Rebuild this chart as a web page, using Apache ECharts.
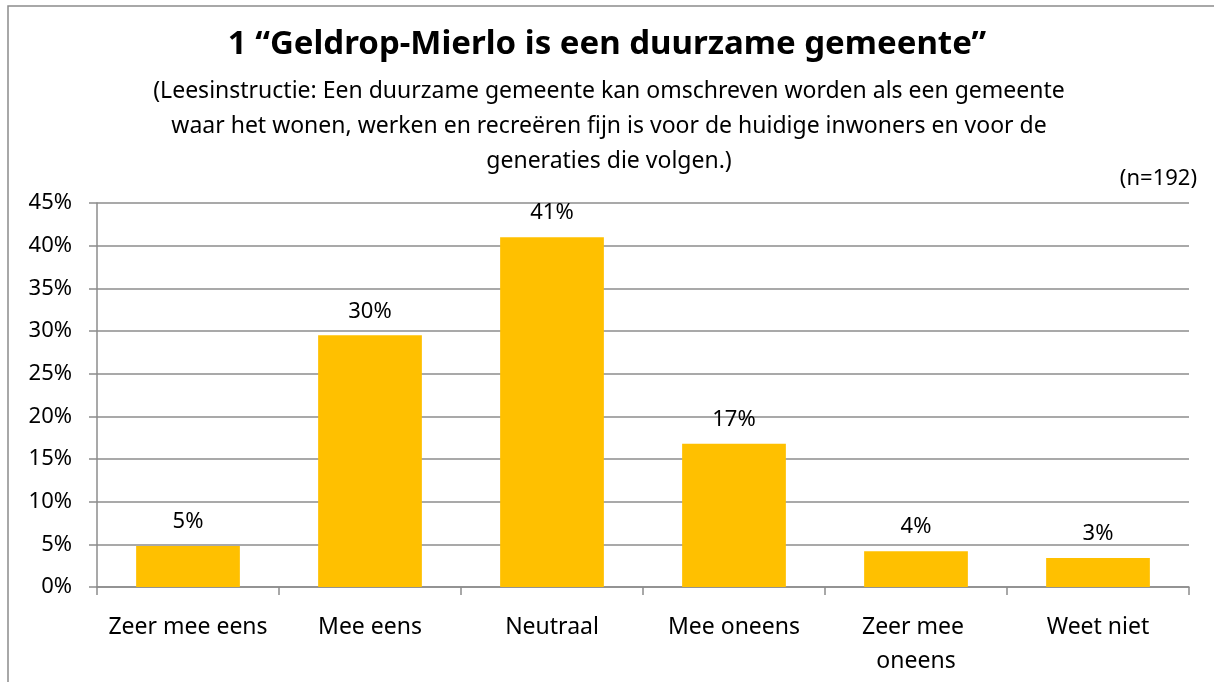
<!DOCTYPE html>
<html>
<head>
<meta charset="utf-8">
<script src="https://cdn.jsdelivr.net/npm/echarts@6/dist/echarts.min.js"></script>
<style>
    html, body { margin: 0; padding: 0; background: #fff; }
    #main { width: 1214px; height: 682px; }
</style>
</head>
<body>
<div id="main"></div>
<script>
    var categories = ['Zeer mee eens', 'Mee eens', 'Neutraal', 'Mee oneens', 'Zeer mee oneens', 'Weet niet'];
    var values = [4.8, 29.5, 41.0, 16.8, 4.2, 3.4];
    var valueLabels = ['5%', '30%', '41%', '17%', '4%', '3%'];
    var titleText = '1 \u201cGeldrop-Mierlo is een duurzame gemeente\u201d';
    var subText = '(Leesinstructie: Een duurzame gemeente kan omschreven worden als een gemeente\nwaar het wonen, werken en recreëren fijn is voor de huidige inwoners en voor de\ngeneraties die volgen.)';
    var nText = '(n=192)';

    var font = 'Noto Sans';
    var chart = echarts.init(document.getElementById('main'));

    var option = {
        backgroundColor: '#fff',
        animation: false,
        title: [
            {
                text: titleText,
                left: 'center',
                top: 23,
                textStyle: { fontFamily: font, fontSize: 33, fontWeight: 'bold', color: '#000' }
            },
            {
                text: nText,
                right: 12,
                top: 163,
                textStyle: { fontFamily: font, fontSize: 22, fontWeight: 'normal', color: '#000' }
            }
        ],
        graphic: [
            {
                type: 'rect',
                shape: { x: 8, y: 6, width: 1400, height: 1000 },
                style: { fill: 'none', stroke: '#8c8c8c', lineWidth: 1.5 },
                silent: true
            },
            {
                type: 'text',
                x: 609,
                y: 74,
                style: {
                    text: subText,
                    align: 'center',
                    verticalAlign: 'top',
                    fontFamily: font,
                    fontSize: 23,
                    lineHeight: 35,
                    fill: '#000'
                },
                silent: true
            }
        ],
        grid: { left: 97, right: 25, top: 203, bottom: 95 },
        xAxis: {
            type: 'category',
            data: categories,
            axisLine: { lineStyle: { color: '#8c8c8c', width: 1.5 } },
            axisTick: { show: true, length: 8, lineStyle: { color: '#8c8c8c', width: 1.5 } },
            axisLabel: {
                fontFamily: font, fontSize: 23, color: '#000', margin: 23,
                width: 178, overflow: 'break', lineHeight: 34, interval: 0
            }
        },
        yAxis: {
            type: 'value',
            min: 0,
            max: 45,
            interval: 5,
            axisLine: { show: true, lineStyle: { color: '#8c8c8c', width: 1.5 } },
            axisTick: { show: true, length: 8, lineStyle: { color: '#8c8c8c', width: 1.5 } },
            splitLine: { lineStyle: { color: '#8c8c8c', width: 1.5 } },
            axisLabel: {
                fontFamily: font, fontSize: 22, color: '#000', margin: 25,
                formatter: '{value}%'
            }
        },
        series: [{
            type: 'bar',
            data: values,
            barCategoryGap: '43%',
            itemStyle: { color: '#FFC000' },
            label: {
                show: true,
                position: 'top',
                distance: 13,
                fontFamily: font,
                fontSize: 22,
                color: '#000',
                formatter: function (p) { return valueLabels[p.dataIndex]; }
            }
        }]
    };

    chart.setOption(option);
</script>
</body>
</html>
